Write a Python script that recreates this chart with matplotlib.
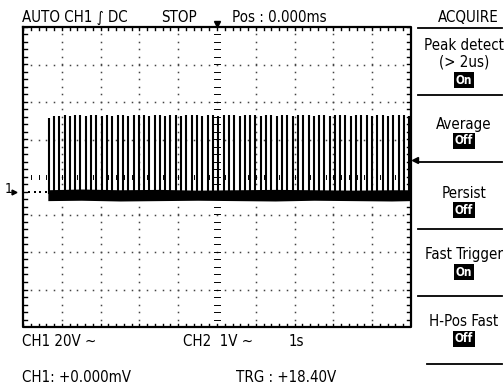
import matplotlib
matplotlib.use("Agg")
import matplotlib.pyplot as plt
import numpy as np

# ---------------- data ----------------
spike_x = [0.66, 0.80, 0.93, 1.07, 1.21, 1.34, 1.48, 1.62, 1.75, 1.89, 2.03, 2.16,
           2.30, 2.44, 2.57, 2.71, 2.85, 2.98, 3.12, 3.26, 3.39, 3.53, 3.67, 3.80,
           3.94, 4.08, 4.21, 4.35, 4.49, 4.62, 4.76, 4.90, 5.03, 5.17, 5.31, 5.44,
           5.58, 5.72, 5.85, 5.99, 6.13, 6.26, 6.40, 6.54, 6.67, 6.81, 6.95, 7.08,
           7.22, 7.36, 7.49, 7.63, 7.77, 7.90, 8.04, 8.18, 8.31, 8.45, 8.59, 8.72,
           8.86, 9.00, 9.13, 9.27, 9.41, 9.54, 9.68, 9.82, 9.95]
spike_top = [1.58, 1.62, 1.64, 1.65, 1.64, 1.66, 1.65, 1.64, 1.65, 1.66, 1.64, 1.65,
             1.64, 1.66, 1.65, 1.64, 1.65, 1.66, 1.65, 1.64, 1.66, 1.65, 1.64, 1.65,
             1.66, 1.64, 1.65, 1.66, 1.65, 1.64, 1.65, 1.66, 1.64, 1.65, 1.66, 1.65,
             1.64, 1.65, 1.66, 1.65, 1.64, 1.66, 1.65, 1.64, 1.65, 1.66, 1.64, 1.65,
             1.66, 1.65, 1.64, 1.65, 1.66, 1.64, 1.65, 1.66, 1.65, 1.64, 1.65, 1.66,
             1.65, 1.64, 1.66, 1.65, 1.64, 1.65, 1.66, 1.65, 1.64]
base_x = [0.64, 1.5, 2.5, 3.5, 4.5, 5.5, 6.5, 7.5, 8.5, 9.5, 10.0]
base_top = [-0.34, -0.32, -0.34, -0.33, -0.35, -0.34, -0.33, -0.34, -0.35, -0.34, -0.34]
base_bot = [-0.63, -0.62, -0.64, -0.63, -0.62, -0.63, -0.64, -0.62, -0.63, -0.64, -0.63]
ground_level = -0.4
trigger_level = 0.45

header_texts = ["AUTO CH1 \u222b DC", "STOP", "Pos : 0.000ms"]
footer_texts = ["CH1 20V \u223c", "CH2  1V \u223c", "1s", "CH1: +0.000mV", "TRG : +18.40V"]
menu_title = "ACQUIRE"
menu_items = [("Peak detect\n(> 2us)", "On"), ("Average", "Off"), ("Persist", "Off"),
              ("Fast Trigger", "On"), ("H-Pos Fast", "Off")]

# ---------------- figure ----------------
W, H = 504, 392
fig = plt.figure(figsize=(W / 100, H / 100), dpi=100)
fig.patch.set_facecolor("white")
L, R, T, B = 23, 411, 27, 327
ax = fig.add_axes([L / W, 1 - B / H, (R - L) / W, (B - T) / H])
ax.set_xlim(0, 10)
ax.set_ylim(-4, 4)
ax.axis("off")

TXT = dict(family=["DejaVu Sans"], fontstretch="condensed")

def px(x, y):
    return x / W, 1 - y / H

# grid dots
minor = np.arange(0, 10.001, 0.2)
minor_y = np.arange(-4, 4.001, 0.2)
for gx in range(1, 10):
    if gx == 5:
        continue
    ax.plot([gx] * len(minor_y), minor_y, ls="none", marker="s", ms=1.1, color="#444444",
            mew=0, zorder=1)
for gy in range(-3, 4):
    if gy == 0:
        continue
    ax.plot(minor, [gy] * len(minor), ls="none", marker="s", ms=1.1, color="#444444",
            mew=0, zorder=1)

# centre cross ticks
dxp = 1 / 38.8
dyp = 1 / 37.5
for yy in minor_y:
    ax.plot([5 - 3 * dxp, 5 + 3 * dxp], [yy, yy], color="black", lw=0.7, zorder=1)
for xx in minor:
    ax.plot([xx, xx], [-2 * dyp, 2 * dyp], color="black", lw=0.7, zorder=1)

# border rulers
for xx in minor:
    ax.plot([xx, xx], [4, 4 - 3 * dyp], color="black", lw=1.0)
    ax.plot([xx, xx], [-4, -4 + 3 * dyp], color="black", lw=1.0)
for yy in minor_y:
    ax.plot([0, 4 * dxp], [yy, yy], color="black", lw=1.0)
    ax.plot([10, 10 - 4 * dxp], [yy, yy], color="black", lw=1.0)
ax.plot([0, 10, 10, 0, 0], [4, 4, -4, -4, 4], color="black", lw=1.6, clip_on=False)

# signal
ax.vlines(spike_x, [-0.45] * len(spike_x), spike_top, color="black", lw=1.5, zorder=3)
ax.fill_between(base_x, base_bot, base_top, color="black", lw=0, zorder=4)

# ground marker dots
ax.plot(np.arange(0.15, 0.62, 0.15), [ground_level] * 4, ls="none", marker="s", ms=1.6,
        color="black", mew=0)
ax.plot([-0.22], [ground_level], marker=">", ms=3.5, color="black", clip_on=False)
fig.text(*px(9, 189), "1", fontsize=10, ha="center", va="center", **TXT)

# trigger markers
ax.plot([5], [4.08], marker="v", ms=4.5, color="black", clip_on=False)
ax.plot([10.1], [trigger_level], marker="<", ms=4, color="black", clip_on=False)

# header
fs = 10.8
fig.text(*px(22, 17), header_texts[0], fontsize=fs, va="center", **TXT)
fig.text(*px(161, 17), header_texts[1], fontsize=fs, va="center", **TXT)
fig.text(*px(232, 17), header_texts[2], fontsize=fs, va="center", **TXT)

# footer
fig.text(*px(22, 341), footer_texts[0], fontsize=fs, va="center", **TXT)
fig.text(*px(183, 341), footer_texts[1], fontsize=fs, va="center", **TXT)
fig.text(*px(289, 341), footer_texts[2], fontsize=fs, va="center", **TXT)
fig.text(*px(22, 377), footer_texts[3], fontsize=fs, va="center", **TXT)
fig.text(*px(236, 377), footer_texts[4], fontsize=fs, va="center", **TXT)

# menu
cx = 464
fig.text(*px(cx + 4, 17), menu_title, fontsize=fs, ha="center", va="center", **TXT)
seps = [28, 95, 162, 229, 296, 364]
for i, s in enumerate(seps):
    x0 = 418 if i < 5 else 427
    fig.add_artist(plt.Line2D([x0 / W, 502 / W], [1 - s / H] * 2, color="black", lw=1.3))
label_y = [(45, 62, 80), (124, None, 141), (193, None, 210), (255, None, 272), (322, None, 339)]
for (lab, state), (y1, y2, y3) in zip(menu_items, label_y):
    lines = lab.split("\n")
    fig.text(*px(cx, y1), lines[0], fontsize=fs, ha="center", va="center", **TXT)
    if y2 is not None:
        fig.text(*px(cx, y2), lines[1], fontsize=fs, ha="center", va="center", **TXT)
    fig.text(*px(cx, y3), state, fontsize=8.5, ha="center", va="center",
             color="white", fontweight="bold",
             bbox=dict(boxstyle="square,pad=0.12", fc="black", ec="none"), **TXT)

fig.savefig("out.png", dpi=100, facecolor="white")
